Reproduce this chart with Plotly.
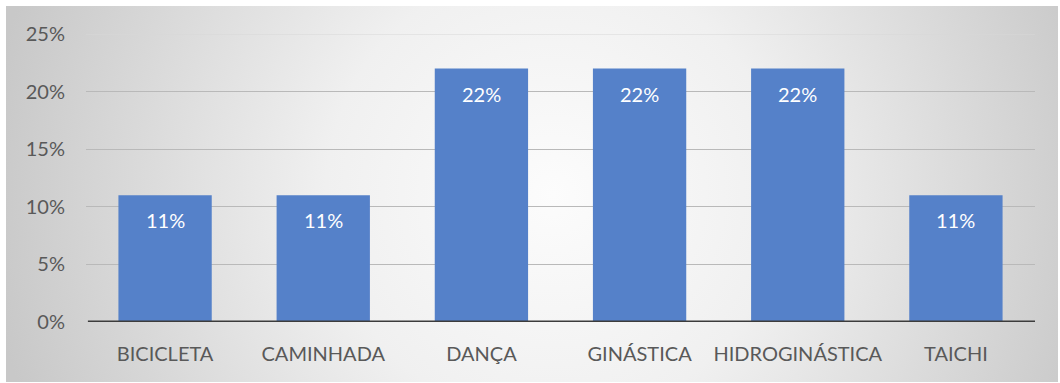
import base64
import plotly.graph_objects as go

# Activity shares
categories = ["BICICLETA", "CAMINHADA", "DANÇA", "GINÁSTICA", "HIDROGINÁSTICA", "TAICHI"]
shares = [0.11, 0.11, 0.22, 0.22, 0.22, 0.11]
tick_values = [0, 0.05, 0.10, 0.15, 0.20, 0.25]
tick_labels = ["0%", "5%", "10%", "15%", "20%", "25%"]

W, H = 1060, 383
# plot area in pixels
L, R, T, B = 86, 25, 34, 61
pw, ph = W - L - R, H - T - B

FONT = "Lato"
FS = 20
GREY = "#595959"
BAR = "#5581c9"

# soft radial backdrop behind the chart (frame from x=6..1058, y=6..382)
fx0, fx1, fy0, fy1 = 6, 1058, 6, 382
bw, bh = fx1 - fx0, fy1 - fy0
svg = f"""<svg xmlns='http://www.w3.org/2000/svg' width='{bw}' height='{bh}' viewBox='0 0 {bw} {bh}' preserveAspectRatio='none'>
<defs><radialGradient id='g' gradientUnits='userSpaceOnUse' cx='{bw*0.52}' cy='{bh*0.5}' r='{bw*0.54}'>
<stop offset='0' stop-color='#fcfcfc'/><stop offset='0.4' stop-color='#f0f0f0'/><stop offset='1' stop-color='#c8c8c8'/>
</radialGradient></defs><rect width='{bw}' height='{bh}' fill='url(#g)'/></svg>"""
src = "data:image/svg+xml;base64," + base64.b64encode(svg.encode()).decode()

fig = go.Figure(
    go.Bar(
        x=categories,
        y=shares,
        marker=dict(color=BAR, line=dict(width=0)),
        width=0.59,
        hoverinfo="skip",
    )
)

# value labels near the top of each bar
for c, v in zip(categories, shares):
    fig.add_annotation(
        x=c, y=v, xref="x", yref="y",
        text=f"{round(v * 100)}%",
        showarrow=False, yanchor="middle", yshift=-25,
        font=dict(family=FONT, size=FS, color="white"),
    )

# faint top gridline
fig.add_shape(type="line", xref="paper", yref="y", x0=0, x1=1, y0=0.25, y1=0.25,
              line=dict(color="#d8d8d8", width=1), layer="below")
# dark baseline
fig.add_shape(type="line", xref="paper", yref="y", x0=0.002, x1=1, y0=0, y1=0,
              line=dict(color="#3c3c3c", width=3), layer="above")

fig.add_layout_image(
    source=src, xref="paper", yref="paper",
    x=(fx0 - L) / pw, y=(H - B - fy0) / ph,
    sizex=bw / pw, sizey=bh / ph,
    xanchor="left", yanchor="top", sizing="stretch", layer="below",
)

fig.update_layout(
    width=W, height=H,
    margin=dict(l=L, r=R, t=T, b=B, pad=0),
    paper_bgcolor="white",
    plot_bgcolor="rgba(0,0,0,0)",
    showlegend=False,
    bargap=0.41,
    font=dict(family=FONT, size=FS, color=GREY),
    xaxis=dict(
        showgrid=False, showline=False, zeroline=False, ticks="",
        tickfont=dict(family=FONT, size=FS, color=GREY),
        ticklabelstandoff=18,
    ),
    yaxis=dict(
        range=[0, 0.25],
        tickvals=tick_values, ticktext=tick_labels,
        showgrid=True, gridcolor="#b9b9b9", gridwidth=1,
        zeroline=False, showline=False, ticks="",
        tickfont=dict(family=FONT, size=FS, color=GREY),
        ticklabelstandoff=20,
    ),
)

fig.write_html("out.html")
